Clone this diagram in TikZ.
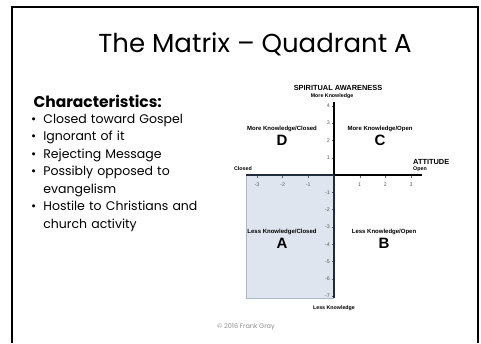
\documentclass[tikz,border=0pt]{standalone}
\usepackage{fontspec}
\setmainfont{Poppins}
\newfontfamily\chartfont{Liberation Sans}
\usetikzlibrary{positioning}
\definecolor{quadfill}{HTML}{DFE5EE}
\definecolor{quadedge}{HTML}{A9B9CD}
\definecolor{quadaxis}{HTML}{1F2C3C}
\definecolor{copygray}{HTML}{8A8A8A}

\begin{document}
\begin{tikzpicture}
    [x=1pt,y=-1pt,
slidetitle/.style={font=\fontsize{26}{29}\selectfont},
listhead/.style={font=\fontsize{15.5}{18}\selectfont\bfseries, anchor=west},
listitem/.style={font=\fontsize{12.5}{17.5}\selectfont, anchor=north west, align=left, text width=175pt, inner sep=0pt},
axistitle/.style={font=\chartfont\fontsize{7.4}{8}\selectfont\bfseries, inner sep=1pt},
axisend/.style={font=\chartfont\fontsize{5.3}{6}\selectfont\bfseries, inner sep=1pt},
quadlabel/.style={font=\chartfont\fontsize{6}{7}\selectfont\bfseries, inner sep=1pt},
quadletter/.style={font=\chartfont\fontsize{15}{16}\selectfont\bfseries, inner sep=0pt},
ticklabel/.style={font=\chartfont\fontsize{5.3}{6}\selectfont, text=black!65, inner sep=1pt}
]
\useasboundingbox (0,0) rectangle (481,343);

% slide frame
\draw[line width=1.7pt] (12,343) -- (12,7) -- (478,7) -- (478,343);

\node[slidetitle](title) at (255,44) {The Matrix -- Quadrant A};

% left column
\node[listhead](charhead) at (30,101) {Characteristics:};
\node[listitem](items) at (31,114) {%
\textbullet\hspace{7pt}Closed toward Gospel\\
\textbullet\hspace{7pt}Ignorant of it\\
\textbullet\hspace{7pt}Rejecting Message\\
\textbullet\hspace{7pt}Possibly opposed to\\
\hphantom{\textbullet\hspace{7pt}}evangelism\\
\textbullet\hspace{7pt}Hostile to Christians and\\
\hphantom{\textbullet\hspace{7pt}}church activity};

% the chart
\coordinate (origin) at (334,175);
\coordinate (yTop) at (334,102);
\coordinate (yBot) at (334,298);
\coordinate (xLeft) at (246,175);
\coordinate (xRight) at (422,175);

\fill[quadfill] (xLeft) rectangle (yBot);
\draw[quadedge, line width=0.8pt] (xLeft) |- (yBot);

\foreach \i in {-3,-2,-1,1,2,3}
{
\draw[black!60, line width=0.4pt] (334+\i*25.7,175) -- ++(0,2.5);
\node[ticklabel] at (334+\i*25.7,184.5) {\i};
}
\foreach \j in {-7,...,-1,1,2,3,4}
{
\draw[black!60, line width=0.4pt] (334,175-\j*17.3) -- ++(-2.5,0);
\node[ticklabel, anchor=east] at (331,175-\j*17.3) {\j};
}

\draw[line width=1.6pt] (origin) -- (xRight);
\draw[line width=1.8pt] (origin) -- (yTop);
\draw[quadaxis, line width=1.8pt] (origin) -- (xLeft);
\draw[quadaxis, line width=2.4pt] (origin) -- (yBot);

\node[axistitle](spirit) at (338,88) {SPIRITUAL AWARENESS};
\node[axisend](moreknow)[below=1pt of spirit,xshift=-6pt] {More Knowledge};
\node[axisend](lessknow) at (334,308) {Less Knowledge};
\node[axistitle,anchor=west](attitude) at (412,162) {ATTITUDE};
\node[axisend,anchor=west](openend)[below=0pt of attitude.south west,anchor=north west] {Open};
\node[axisend](closedend) at (243,168.5) {Closed};

\node[quadlabel](labD) at (282,129) {More Knowledge/Closed};
\node[quadletter](D)[below=2pt of labD] {D};
\node[quadlabel](labC) at (380,129) {More Knowledge/Open};
\node[quadletter](C)[below=2pt of labC] {C};
\node[quadlabel](labA) at (282,232) {Less Knowledge/Closed};
\node[quadletter](A)[below=2pt of labA] {A};
\node[quadlabel](labB) at (384,232) {Less Knowledge/Open};
\node[quadletter](B)[below=2pt of labB] {B};

\node[font=\fontsize{6.5}{8}\selectfont, text=copygray](copy) at (246,327) {© 2016 Frank Gray};
\end{tikzpicture}
\end{document}
